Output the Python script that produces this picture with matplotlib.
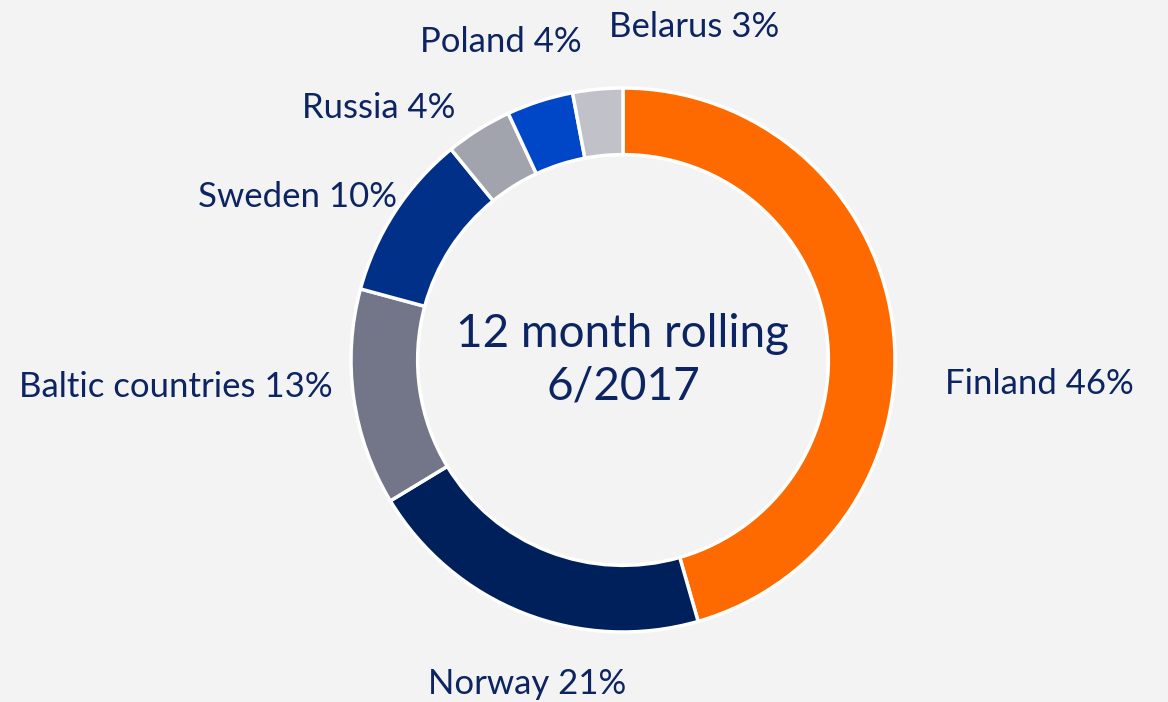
import matplotlib.pyplot as plt

# data
countries = ['Finland', 'Norway', 'Baltic countries', 'Sweden', 'Russia', 'Poland', 'Belarus']
shares = [46, 21, 13, 10, 4, 4, 3]
colors = ['#ff6a00', '#00205b', '#737589', '#003087', '#a2a4ad', '#0047c8', '#c0c1c9']

# label placement (axes units, ring radius = 1)
label_pos = [(1.184, -0.09, 'left'), (-0.353, -1.19, 'center'), (-1.066, -0.10, 'right'),
             (-0.831, 0.60, 'right'), (-0.618, 0.925, 'right'), (-0.151, 1.17, 'right'),
             (-0.051, 1.225, 'left')]

bg = '#f3f3f3'
txt = '#0c2461'
plt.rcParams['font.family'] = ['Lato', 'DejaVu Sans']

fig = plt.figure(figsize=(11.68, 7.02), dpi=100, facecolor=bg)
ax = fig.add_axes([0, 0, 1, 1])
ax.set_facecolor(bg)

ax.pie(shares, colors=colors, startangle=90, counterclock=False, radius=1,
       wedgeprops=dict(width=0.245, edgecolor='white', linewidth=2.5))

for name, val, (x, y, ha) in zip(countries, shares, label_pos):
    ax.text(x, y, f'{name} {val}%', ha=ha, va='center', fontsize=25, color=txt)

ax.text(0, 0.0, '12 month rolling\n6/2017', ha='center', va='center',
        fontsize=33, color=txt, linespacing=1.3)

ax.set_xlim(-623 / 272, (1168 - 623) / 272)
ax.set_ylim(-(702 - 360) / 272, 360 / 272)
ax.set_aspect('equal')
ax.axis('off')

fig.savefig('out.png', dpi=100, facecolor=bg)
